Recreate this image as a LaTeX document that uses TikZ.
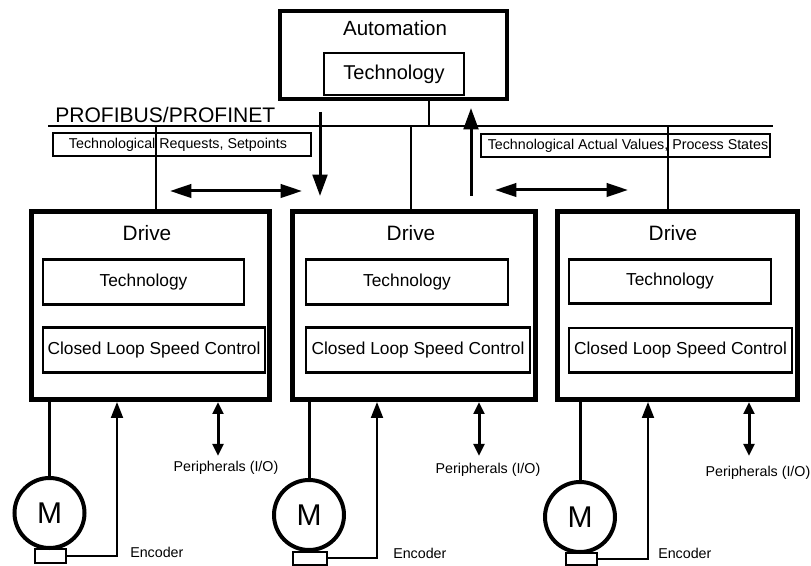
\documentclass[tikz,border=0pt]{standalone}
\usepackage{fontspec}
\setmainfont{Liberation Sans}
\usetikzlibrary{arrows.meta,fit}
\begin{document}
\begin{tikzpicture}[x=0.75pt,y=-0.75pt,
  autobox/.style={draw, line width=3.4pt, inner sep=0pt},
  drivebox/.style={draw, line width=3.75pt, inner sep=0pt},
  innerbox/.style={draw, line width=1.9pt, inner sep=0pt, font=\fontsize{13}{15}\selectfont},
  lblbox/.style={draw, line width=1.5pt, inner sep=0pt},
  title/.style={inner sep=0pt, font=\fontsize{15.6}{18}\selectfont},
  lbl/.style={inner sep=0pt, font=\fontsize{10.7}{12}\selectfont},
  busline/.style={line width=1.5pt},
  dropline/.style={line width=1.1pt},
  bigarrow/.style={-{Triangle[length=16pt,width=11pt]}, line width=2.25pt},
  dblarrow/.style={{Triangle[length=16pt,width=10pt]}-{Triangle[length=16pt,width=10pt]}, line width=2.25pt},
  perarrow/.style={{Triangle[length=9pt,width=8pt]}-{Triangle[length=9pt,width=8pt]}, line width=2.25pt},
  encarrow/.style={-{Triangle[length=12pt,width=9pt]}, line width=1.5pt},
  motor/.style={draw, circle, line width=3pt, minimum size=52.5pt, inner sep=0pt, font=\fontsize{22.5}{26}\selectfont},
  encbox/.style={draw, line width=1.5pt, inner sep=0pt},
  motorline/.style={line width=2.25pt}
]
\useasboundingbox (0,0) rectangle (811,566);

% Automation
\node[autobox, fit={(280,11) (507,99)}] (auto) {};
\node[title, font=\fontsize{15.4}{18}\selectfont] (autotxt) at (395,28) {Automation};
\node[innerbox, fit={(324,53) (464,95)}, font=\fontsize{15}{18}\selectfont] (autotech) {};
\node[inner sep=0pt, font=\fontsize{15}{18}\selectfont] (autotechtxt) at (autotech.center) {Technology};

% Bus
\coordinate (busL) at (48,126);
\coordinate (busR) at (773,126);
\draw[busline] (busL) -- (busR);
\node[inner sep=0pt, anchor=base west, font=\fontsize{15.8}{18}\selectfont] (bustxt) at (55,123) {PROFIBUS/PROFINET};
\coordinate (b0) at (429,126);
\draw[dropline] (auto.south -| b0) -- (b0);

% Label boxes
\node[lblbox, fit={(53,133) (311,156)}] (req) {};
\node[lbl] (reqtxt) at (178,145) {Technological Requests, Setpoints};
\node[lblbox, fit={(481,134) (770,157)}] (act) {};
\node[lbl] (acttxt) at (628,146) {Technological Actual Values, Process States};

% Drives
\node[drivebox, fit={(31.5,211.5) (269.5,399.5)}] (d1) {};
\node[drivebox, fit={(292.5,211.5) (535.5,399.5)}] (d2) {};
\node[drivebox, fit={(557.5,211.5) (797.5,399.5)}] (d3) {};
\node[title] (dt1) at (147,233) {Drive};
\node[title] (dt2) at (411,233) {Drive};
\node[title] (dt3) at (673,233) {Drive};

\node[innerbox, fit={(43,259.5) (244,304.5)}] (t1) {};
\node[innerbox, fit={(306,259.5) (508,304.5)}] (t2) {};
\node[innerbox, fit={(569,259.5) (771,303.5)}] (t3) {};
\node[inner sep=0pt, font=\fontsize{13}{15}\selectfont] (tt1) at (t1.center) {Technology};
\node[inner sep=0pt, font=\fontsize{13}{15}\selectfont] (tt2) at (t2.center) {Technology};
\node[inner sep=0pt, font=\fontsize{13}{15}\selectfont] (tt3) at (t3.center) {Technology};

\node[innerbox, fit={(43,327.5) (265,372.5)}] (c1) {};
\node[innerbox, fit={(306,327.5) (530,372.5)}] (c2) {};
\node[innerbox, fit={(569,328) (792,372.5)}] (c3) {};
\node[inner sep=0pt, font=\fontsize{13}{15}\selectfont] (ct1) at (c1.center) {Closed Loop Speed Control};
\node[inner sep=0pt, font=\fontsize{13}{15}\selectfont] (ct2) at (c2.center) {Closed Loop Speed Control};
\node[inner sep=0pt, font=\fontsize{13}{15}\selectfont] (ct3) at (c3.center) {Closed Loop Speed Control};

% Drops from bus
\coordinate (b1) at (156,126);
\coordinate (b2) at (411,126);
\coordinate (b3) at (668,126);
\draw[dropline] (b1) -- (b1 |- d1.north);
\draw[dropline] (b2) -- (b2 |- d2.north);
\draw[dropline] (b3) -- (b3 |- d3.north);

% Setpoint / actual value arrows
\coordinate (dnS) at (320,112);
\coordinate (dnE) at (320,196);
\draw[bigarrow] (dnS) -- (dnE);
\coordinate (upS) at (471,196);
\coordinate (upE) at (471,108);
\draw[bigarrow] (upS) -- (upE);
\coordinate (x1L) at (170,191);
\coordinate (x1R) at (302,191);
\draw[dblarrow] (x1L) -- (x1R);
\coordinate (x2L) at (495,190);
\coordinate (x2R) at (628,190);
\draw[dblarrow] (x2L) -- (x2R);

% Peripherals
\coordinate (p1) at (218,456);
\coordinate (p2) at (479,456);
\coordinate (p3) at (749,456);
\draw[perarrow] (d1.south -| p1) -- (p1);
\draw[perarrow] (d2.south -| p2) -- (p2);
\draw[perarrow] (d3.south -| p3) -- (p3);
\node[lbl] (pl1) at (226,468) {Peripherals (I/O)};
\node[lbl] (pl2) at (488,470) {Peripherals (I/O)};
\node[lbl] (pl3) at (758,473) {Peripherals (I/O)};

% Motors
\node[motor] (m1) at (49.5,513) {M};
\node[motor] (m2) at (309,515) {M};
\node[motor] (m3) at (580,517) {M};
\draw[motorline] (d1.south -| m1) -- (m1.north);
\draw[motorline] (d2.south -| m2) -- (m2.north);
\draw[motorline] (d3.south -| m3) -- (m3.north);

% Encoders
\node[encbox, fit={(35,549) (66,563)}] (e1) {};
\node[encbox, fit={(293,552) (327,565)}] (e2) {};
\node[encbox, fit={(566,553) (597,565)}] (e3) {};
\coordinate (k1) at (117,0);
\coordinate (k2) at (377,0);
\coordinate (k3) at (648,0);
\draw[encarrow] (e1.east) -| (d1.south -| k1);
\draw[encarrow] (e2.east) -| (d2.south -| k2);
\draw[encarrow] (e3.east) -| (d3.south -| k3);
\node[lbl, anchor=west] (et1) at (130,552) {Encoder};
\node[lbl, anchor=west] (et2) at (393,553) {Encoder};
\node[lbl, anchor=west] (et3) at (658,553) {Encoder};
\end{tikzpicture}
\end{document}
